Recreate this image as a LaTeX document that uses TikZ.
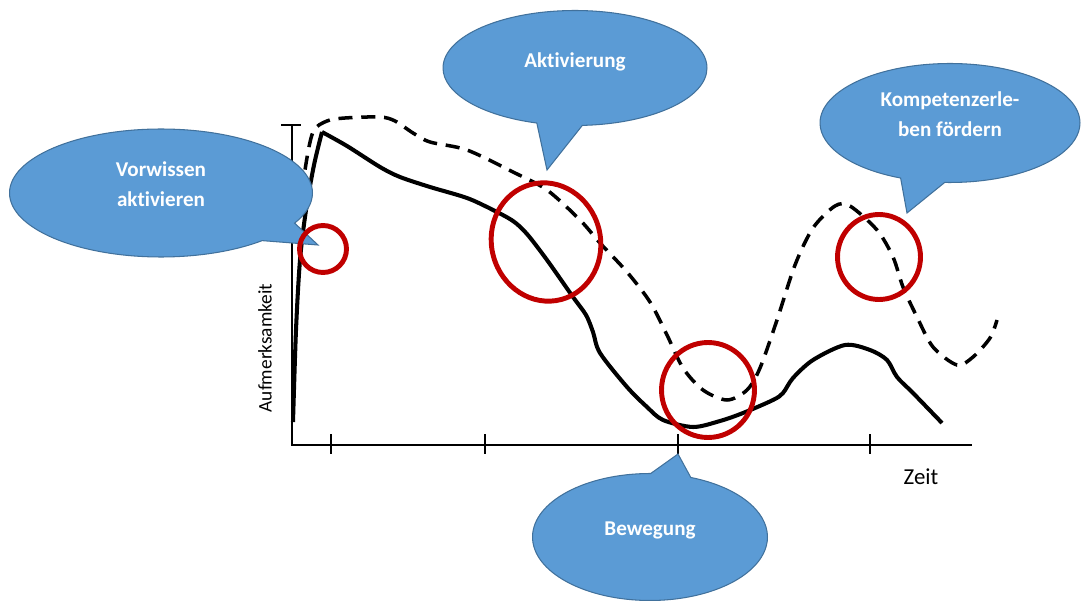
\documentclass[tikz,border=0pt]{standalone}
\usepackage{fontspec}
\setmainfont{Carlito}[Ligatures=CommonOff]
\usetikzlibrary{shapes.geometric,shapes.callouts}
\definecolor{bubblefill}{RGB}{91,155,213}
\definecolor{bubbleline}{RGB}{65,113,156}
\definecolor{ringred}{RGB}{192,0,0}

\begin{document}
\begin{tikzpicture}[x=.02cm,y=-.02cm,
  bubble/.style={ellipse callout,draw=bubbleline,fill=bubblefill,line width=.6pt,
    text=white,font=\bfseries\fontsize{12}{17}\selectfont,align=center,
    callout pointer arc=20,inner sep=0pt},
  ring/.style={ellipse,draw=ringred,line width=2.8pt,inner sep=0pt},
  curve/.style={line width=2.3pt,line join=round},
  dashcurve/.style={line width=2pt,dash pattern=on 8pt off 5pt},
  axislabel/.style={font=\fontsize{11}{13}\selectfont}]
\useasboundingbox (0,0) rectangle (1092,601);

% axes
\draw[line width=1.2pt] (281,125) -- (301,125);
\draw[line width=1.2pt] (292,125) -- (292,445);
\draw[line width=1.7pt] (291,445) -- (972,445);
\foreach \t in {331,485,678,870}
  \draw[line width=.8pt] (\t,434) -- (\t,454);
\coordinate (tick3) at (678,454);
\node[axislabel,rotate=90] (ylab) at (265,348) {Aufmerksamkeit};
\node[axislabel,font=\fontsize{13}{15}\selectfont] (xlab) at (921,477) {Zeit};

% curves
\draw[dashcurve] plot[smooth] coordinates {(300,215) (305,170) (313,132) (327,121) (345,118)
  (380,117) (395,121) (413,133) (430,142) (467,150) (513,172) (547,190) (580,220)
  (600,243) (627,272) (650,302) (667,335) (683,368) (703,390) (727,400) (747,390)
  (760,368) (777,320) (795,265) (813,228) (835,206) (850,206) (877,230) (893,257)
  (903,287) (917,317) (933,347) (957,365) (973,357) (990,338) (997,320)};
\draw[curve] plot[smooth] coordinates {(293,422) (296,330) (300,260) (306,210) (314,165) (322,132)}
  plot[smooth] coordinates {(322,132) (347,146) (380,167) (400,177) (430,187) (467,198)
  (493,210) (513,221) (527,234) (547,260) (573,297) (586,315) (593,332) (600,353)
  (627,387) (647,407) (663,420) (693,427) (720,421) (743,413) (773,400) (783,393)
  (793,378) (813,360) (845,345) (870,350) (887,360) (897,377) (913,393) (942,423)};

% callouts
\coordinate (tipvorw) at (318,245);
\coordinate (tipaktiv) at (547,170);
\coordinate (tipkomp) at (907,213);
\node[bubble,minimum width=6.06cm,minimum height=2.56cm,text depth=10pt,callout absolute pointer=(tipvorw)]
  (vorw) at (161,193) {Vorwissen\\aktivieren};
\node[bubble,minimum width=5.28cm,minimum height=2.3cm,text depth=9.5pt,callout absolute pointer=(tipaktiv)]
  (aktiv) at (575,68) {Aktivierung};
\node[bubble,minimum width=5.2cm,minimum height=2.38cm,text depth=10pt,callout absolute pointer=(tipkomp)]
  (komp) at (950,123) {Kompetenzerle-\\ben fördern};
\node[bubble,minimum width=4.7cm,minimum height=2.54cm,text depth=9.5pt,callout absolute pointer=(tick3)]
  (beweg) at (650,537) {Bewegung};

% rings
\node[ring,minimum width=.94cm,minimum height=.94cm] (ring1) at (323,249) {};
\node[ring,minimum width=2.18cm,minimum height=2.38cm,rotate=15] (ring2) at (546,242) {};
\node[ring,minimum width=1.86cm,minimum height=1.9cm] (ring3) at (708,390) {};
\node[ring,minimum width=1.66cm,minimum height=1.7cm] (ring4) at (879,257) {};
\end{tikzpicture}
\end{document}
